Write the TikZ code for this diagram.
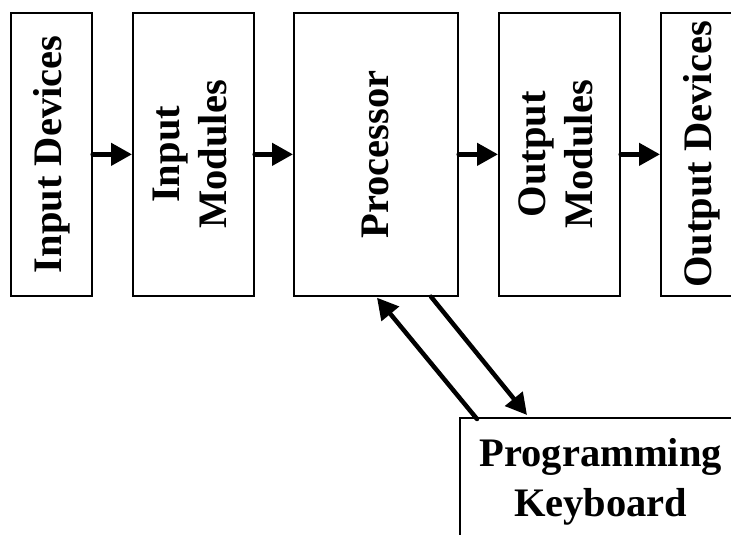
\documentclass[tikz,border=0pt]{standalone}
\usepackage{fontspec}
\setmainfont{Liberation Serif}
\usepackage{graphicx}
\usetikzlibrary{arrows.meta,calc}
\begin{document}
\begin{tikzpicture}[x=1pt,y=-1pt,
  blk/.style={draw, line width=1.7pt, inner sep=0pt, anchor=north west, minimum height=283pt,
    font=\fontsize{40.5}{47}\selectfont\bfseries},
  arr/.style={line width=4.5pt, line cap=round, -{Triangle[length=21pt,width=22pt]}}]
\useasboundingbox (0,0) rectangle (731,535);
\clip (0,0) rectangle (731,535);
\node[blk, minimum width=81pt] (indev) at (10,12) {\rotatebox{90}{Input Devices}};
\node[blk, minimum width=121pt] (inmod) at (132,12) {\rotatebox{90}{\begin{tabular}{@{}c@{}}Input\\Modules\end{tabular}}};
\node[blk, minimum width=164pt] (proc) at (293,12) {\rotatebox{90}{Processor}};
\node[blk, minimum width=121pt] (outmod) at (498,12) {\rotatebox{90}{\begin{tabular}{@{}c@{}}Output\\Modules\end{tabular}}};
\node[blk, minimum width=81pt] (outdev) at (660,12) {\rotatebox{90}{Output Devices}};
\node[blk, minimum width=282pt, minimum height=128pt, align=center] (kbd) at (459,417) {Programming\\[3pt]Keyboard};
\draw[arr] (indev.east) -- (inmod.west);
\draw[arr] (inmod.east) -- (proc.west);
\draw[arr] (proc.east) -- (outmod.west);
\draw[arr] (outmod.east) -- (outdev.west);
\coordinate (kA) at ([xshift=18pt,yshift=-2pt]kbd.north west);
\coordinate (pA) at ([xshift=84pt,yshift=-1pt]proc.south west);
\coordinate (pB) at ([xshift=138pt]proc.south west);
\coordinate (kB) at ([xshift=68pt,yshift=2pt]kbd.north west);
\draw[arr] (kA) -- (pA);
\draw[arr] (pB) -- (kB);
\end{tikzpicture}
\end{document}
